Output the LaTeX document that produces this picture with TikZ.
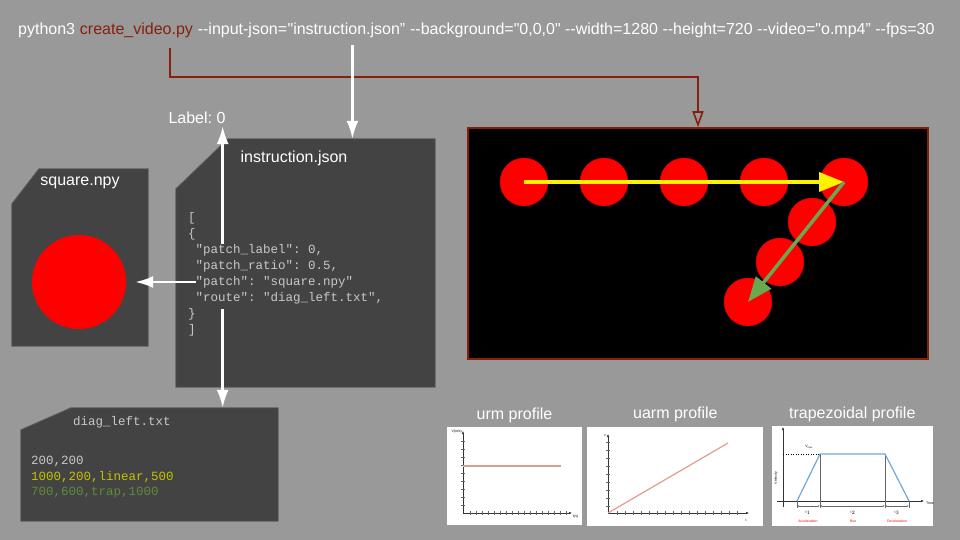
\documentclass[tikz,border=0pt]{standalone}
\usepackage{fontspec}
\setmainfont{Liberation Sans}
\newfontfamily\uifont{Liberation Sans}
\newfontfamily\codefont{Liberation Mono}
\usetikzlibrary{arrows.meta}
\usetikzlibrary{positioning}
\frenchspacing

\definecolor{slidegray}{HTML}{999999}
\definecolor{filegray}{HTML}{434343}
\definecolor{fileedge}{HTML}{5F5F5F}
\definecolor{scriptred}{HTML}{85200C}
\definecolor{codegray}{HTML}{C8C8C8}
\definecolor{codeyellow}{HTML}{C4C400}
\definecolor{codegreen}{HTML}{5E8B3C}
\definecolor{pathgreen}{HTML}{6AA84F}
\definecolor{profsalmon}{HTML}{E49B89}
\definecolor{trapblue}{HTML}{6FA8DC}

\begin{document}
\begin{tikzpicture}[
		x=1pt, y=-1pt,
		cmd/.style={inner sep=0pt, text=white, font=\uifont\fontsize{16}{19}\selectfont},
		title/.style={inner sep=0pt, text=white, font=\uifont\fontsize{16}{19}\selectfont},
		code/.style={inner sep=0pt, anchor=west, text=codegray, font=\codefont\fontsize{12.5}{15}\selectfont},
		filebox/.style={rectangle, inner sep=0pt},
		fileshape/.style={fill=filegray, draw=fileedge, line width=0.8pt},
		dot/.style={circle, fill=red, draw=red!80!black, minimum size=48pt, inner sep=0pt},
		card/.style={rectangle, fill=white, inner sep=0pt},
		tiny/.style={inner sep=0pt, font=\uifont\fontsize{3.5}{4}\selectfont},
		axis/.style={line width=0.5pt, black!80, -{Latex[length=3pt, width=2.5pt]}},
		tick/.style={line width=0.4pt, black!60},
		arrow/.style={line width=2.5pt, white, -{Latex[length=18pt, width=12pt]}},
		redarrow/.style={line width=2pt, scriptred, -{Triangle[open, length=16pt, width=11pt, line width=1.6pt]}},
		patharrow/.style={line width=3.5pt, -{Triangle[length=25pt, width=19pt]}},
	]
	\fill[slidegray] (0,0) rectangle (960,540);
	\useasboundingbox (0,0) rectangle (960,540);

	% command line
	\node (py) [cmd, anchor=base west] at (18,35) {python3};
	\node (script) [cmd, text=scriptred, anchor=base west, xshift=4.45pt] at (py.base east) {create\_video.py};
	\node (args) [cmd, anchor=base west, xshift=4.45pt] at (script.base east) {--input-json=};
	\node (jsonarg) [cmd, anchor=base west] at (args.base east) {"instruction.json”};
	\node (rest) [cmd, anchor=base west, xshift=4.45pt] at (jsonarg.base east) {--background="0,0,0" --width=1280 --height=720 --video="o.mp4” --fps=30};
	\coordinate (tap) at ([xshift=-23pt, yshift=-9pt]script.south east);

	% video frame
	\node (frame) [rectangle, fill=black, draw=scriptred, line width=1.5pt, minimum width=460pt, minimum height=231pt] at (698,243.5) {};
	\foreach \n/\x/\y in {1/524/182, 2/604/182, 3/684/182, 4/764/182, 5/844/182, 6/812/222, 7/780/262, 8/748/302}
		\node (dot\n) [dot] at (\x,\y) {};
	\draw[patharrow, yellow] (dot1.center) -- (dot5.center);
	\draw[patharrow, pathgreen] (dot5.center) -- (dot8.center);

	% instruction.json
	\node (json) [filebox, minimum width=259pt, minimum height=248pt] at (305.5,263) {};
	\filldraw[fileshape] ([xshift=52pt]json.north west) -- (json.north east) -- (json.south east) -- (json.south west) -- ([yshift=-50pt]json.north west) -- cycle;
	\node (jsontitle) [title] at (294,158) {instruction.json};
	\node (jopen) [code] at (188,218) {[};
	\node (jbrace) [code, below=16pt of jopen.west, anchor=west] {\{};
	\node (plabel) [code, below=16pt of jbrace.west, anchor=west, xshift=7.5pt] {"patch\_label": 0,};
	\node (pratio) [code, below=16pt of plabel.west, anchor=west] {"patch\_ratio": 0.5,};
	\node (ppatch) [code, below=16pt of pratio.west, anchor=west] {"patch": "square.npy"};
	\node (proute) [code, below=16pt of ppatch.west, anchor=west] {"route": "diag\_left.txt",};
	\node (jcbrace) [code, below=16pt of proute.west, anchor=west, xshift=-7.5pt] {\}};
	\node (jclose) [code, below=16pt of jcbrace.west, anchor=west] {]};

	% square.npy
	\node (square) [filebox, minimum width=136pt, minimum height=177pt] at (80,257.5) {};
	\filldraw[fileshape] ([xshift=27pt]square.north west) -- (square.north east) -- (square.south east) -- (square.south west) -- ([yshift=-35pt]square.north west) -- cycle;
	\node (sqtitle) [title] at (80,183) {square.npy};
	\node (sqdot) [circle, fill=red, minimum size=94pt, inner sep=0pt] at (79,282) {};

	% diag_left.txt
	\node (diag) [filebox, minimum width=257pt, minimum height=113pt] at (149.5,464.5) {};
	\filldraw[fileshape] ([xshift=50pt]diag.north west) -- (diag.north east) -- (diag.south east) -- (diag.south west) -- ([yshift=-22pt]diag.north west) -- cycle;
	\node (dtitle) [code] at (73,422) {diag\_left.txt};
	\node (d1) [code] at (31,461) {200,200};
	\node (d2) [code, text=codeyellow, below=16pt of d1.west, anchor=west] {1000,200,linear,500};
	\node (d3) [code, text=codegreen, below=16pt of d2.west, anchor=west] {700,600,trap,1000};

	\node (label) [title, inner sep=2pt] at (197,118) {Label: 0};
	\coordinate (spine) at ([xshift=-5pt]label.south east);

	\draw[redarrow] (tap) -- ++(0,29) -| (frame.north);
	\draw[arrow, shorten <=6pt] ([xshift=6pt]jsonarg.south) -- ([xshift=6pt]jsonarg.south |- json.north);
	\draw[arrow] (spine |- plabel.north) -- (spine);
	\draw[arrow, shorten >=9pt] (ppatch.west) -- (sqdot);
	\draw[arrow, shorten <=5pt] (spine |- proute.south) -- (spine |- diag.north);

	% profiles
	\node (urm) [card, minimum width=135pt, minimum height=98pt] at (514.5,476) {};
	\node (uarm) [card, minimum width=176pt, minimum height=99pt, right=5pt of urm] {};
	\node (trap) [card, minimum width=161pt, minimum height=100pt, right=8pt of uarm] {};
	\node (urmtitle) [title, above=4pt of urm] {urm profile};
	\node (uarmtitle) [title, above=4pt of uarm] {uarm profile};
	\node (traptitle) [title, above=4pt of trap] {trapezoidal profile};

	\draw[axis] (463,513) -- (463,431);
	\draw[axis] (463,513) -- (572,513);
	\foreach \t in {441,449,...,505} \draw[tick] (461,\t) -- (465,\t);
	\foreach \t in {470,476,...,566} \draw[tick] (\t,511) -- (\t,515);
	\draw[profsalmon, line width=1.5pt] (463,466) -- (561,466);
	\node (urmv) [tiny, anchor=east] at (462,432) {V(m/s)};
	\node (urmt) [tiny, anchor=west] at (573,517) {t(s)};

	\draw[axis] (608,513) -- (608,434);
	\draw[axis] (608,513) -- (749,513);
	\foreach \t in {442,450,...,506} \draw[tick] (606,\t) -- (610,\t);
	\foreach \t in {617,625,...,741} \draw[tick] (\t,511) -- (\t,515);
	\draw[profsalmon, line width=1.2pt] (608,513) -- (728,443);
	\node (uarmv) [tiny, anchor=east] at (606,436) {v};
	\node (uarmt) [tiny] at (746,520) {t};

	\draw[axis] (783,507) -- (783,427);
	\draw[axis] (777,501) -- (924,501);
	\draw[dotted, line width=0.5pt] (783,454) -- (820,454);
	\draw[tick] (820,454) -- (820,508) (885,454) -- (885,508) (797,501) -- (797,508) (909,501) -- (909,508);
	\draw[trapblue, line width=1.2pt] (797,501) -- (820,454) -- (885,454) -- (909,501);
	\draw[tick, {Latex[length=2pt, width=1.5pt]}-{Latex[length=2pt, width=1.5pt]}] (797,506) -- (820,506);
	\draw[tick, {Latex[length=2pt, width=1.5pt]}-{Latex[length=2pt, width=1.5pt]}] (820,506) -- (885,506);
	\draw[tick, {Latex[length=2pt, width=1.5pt]}-{Latex[length=2pt, width=1.5pt]}] (885,506) -- (909,506);
	\node (vmax) [tiny] at (809,447) {V$_{\max}$};
	\node (velo) [tiny, rotate=90] at (776,478) {Velocity};
	\node (time) [tiny, anchor=west] at (926,503) {Time};
	\node (t1) [tiny] at (808,513) {t$_1$};
	\node (t2) [tiny] at (853,513) {t$_2$};
	\node (t3) [tiny] at (897,513) {t$_3$};
	\node (acc) [tiny, text=red] at (808,521) {Acceleration};
	\node (run) [tiny, text=red] at (853,521) {Run};
	\node (dec) [tiny, text=red] at (897,521) {Deceleration};
\end{tikzpicture}
\end{document}
